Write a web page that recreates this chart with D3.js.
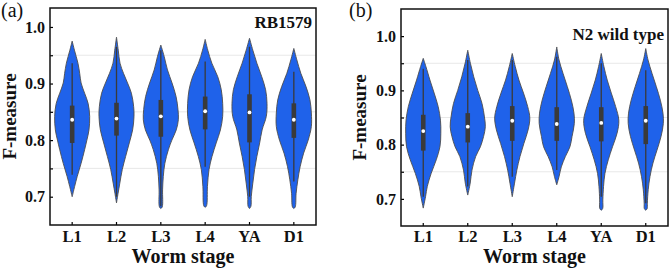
<!DOCTYPE html>
<html>
<head>
<meta charset="utf-8">
<script src="https://cdn.jsdelivr.net/npm/d3@7"></script>
<style>
  body { margin: 0; background: #fff; }
  svg { display: block; }
</style>
</head>
<body>
<div id="chart"></div>
<script>
const stages = ["L1", "L2", "L3", "L4", "YA", "D1"]
const yTicks = [0.7, 0.8, 0.9, 1.0]
const minorTicks = [0.7, 0.75, 0.8, 0.85, 0.9, 0.95, 1.0]
const gridValues = [0.75, 0.85, 0.95]

// violin outlines: [F-measure, relative density]
const rbShapes = [
    [[0.70,0],[0.718,0.14],[0.736,0.29],[0.759,0.51],[0.783,0.71],[0.80,0.84],[0.818,0.96],[0.842,1.0],[0.865,0.91],[0.883,0.71],[0.901,0.51],[0.918,0.43],[0.936,0.33],[0.959,0.13],[0.975,0]],
    [[0.689,0],[0.706,0.09],[0.724,0.19],[0.748,0.33],[0.771,0.52],[0.795,0.73],[0.818,0.92],[0.842,1.0],[0.859,0.98],[0.883,0.85],[0.901,0.63],[0.918,0.4],[0.936,0.2],[0.959,0.1],[0.982,0]],
    [[0.679,0],[0.682,0.08],[0.712,0.1],[0.736,0.14],[0.759,0.23],[0.783,0.43],[0.80,0.63],[0.818,0.88],[0.836,1.0],[0.854,0.98],[0.877,0.87],[0.901,0.64],[0.924,0.38],[0.948,0.19],[0.968,0]],
    [[0.681,0],[0.684,0.08],[0.718,0.13],[0.748,0.22],[0.771,0.39],[0.795,0.63],[0.818,0.87],[0.842,1.0],[0.865,1.0],[0.889,0.92],[0.912,0.72],[0.936,0.38],[0.959,0.15],[0.978,0]],
    [[0.679,0],[0.683,0.08],[0.70,0.1],[0.724,0.19],[0.748,0.29],[0.771,0.42],[0.795,0.58],[0.818,0.72],[0.842,0.96],[0.865,1.0],[0.889,0.92],[0.912,0.7],[0.936,0.42],[0.959,0.19],[0.98,0]],
    [[0.679,0],[0.682,0.08],[0.706,0.13],[0.73,0.23],[0.753,0.36],[0.777,0.56],[0.80,0.82],[0.824,1.0],[0.848,1.0],[0.871,0.92],[0.895,0.69],[0.918,0.4],[0.942,0.17],[0.962,0]]
]
// box stats: [whisker low, q1, median, q3, whisker high]
const rbBoxes = [
    [0.739, 0.795, 0.836, 0.861, 0.936],
    [0.700, 0.808, 0.838, 0.866, 0.965],
    [0.683, 0.806, 0.842, 0.871, 0.959],
    [0.753, 0.819, 0.851, 0.877, 0.939],
    [0.700, 0.796, 0.849, 0.881, 0.965],
    [0.727, 0.804, 0.836, 0.865, 0.921]
]

const n2Shapes = [
    [[0.683,0],[0.704,0.13],[0.723,0.23],[0.747,0.45],[0.772,0.74],[0.796,0.95],[0.821,1.0],[0.845,0.98],[0.87,0.85],[0.895,0.62],[0.919,0.38],[0.944,0.15],[0.959,0]],
    [[0.707,0],[0.729,0.14],[0.753,0.24],[0.778,0.45],[0.796,0.72],[0.815,0.9],[0.833,1.0],[0.851,0.95],[0.876,0.81],[0.90,0.57],[0.925,0.34],[0.95,0.15],[0.974,0]],
    [[0.704,0],[0.729,0.13],[0.753,0.26],[0.778,0.44],[0.802,0.66],[0.827,0.9],[0.849,1.0],[0.87,0.88],[0.895,0.64],[0.919,0.38],[0.944,0.17],[0.968,0]],
    [[0.726,0],[0.741,0.13],[0.759,0.26],[0.778,0.49],[0.796,0.75],[0.815,0.87],[0.839,1.0],[0.858,0.98],[0.882,0.83],[0.907,0.6],[0.931,0.36],[0.956,0.13],[0.98,0]],
    [[0.679,0],[0.682,0.08],[0.698,0.09],[0.723,0.13],[0.747,0.21],[0.772,0.4],[0.796,0.64],[0.821,0.9],[0.845,1.0],[0.87,0.82],[0.895,0.57],[0.919,0.34],[0.944,0.15],[0.968,0]],
    [[0.679,0],[0.682,0.08],[0.692,0.09],[0.717,0.14],[0.741,0.24],[0.766,0.41],[0.79,0.64],[0.815,0.87],[0.839,1.0],[0.858,0.98],[0.882,0.83],[0.907,0.6],[0.931,0.36],[0.956,0.13],[0.977,0]]
]
const n2Boxes = [
    [0.704, 0.789, 0.825, 0.855, 0.940],
    [0.723, 0.804, 0.833, 0.858, 0.956],
    [0.741, 0.807, 0.844, 0.871, 0.956],
    [0.753, 0.807, 0.838, 0.869, 0.962],
    [0.704, 0.806, 0.840, 0.869, 0.950],
    [0.692, 0.801, 0.844, 0.871, 0.937]
]

const width = 669
const height = 268
const fill = "#1f62ea"
const dark = "#3a3a3a"
const font = "'Liberation Serif', 'Times New Roman', serif"

const svg = d3.select("#chart").append("svg")
    .attr("width", width)
    .attr("height", height)
    .attr("viewBox", [0, 0, width, height])
    .style("font-family", font)

function drawPanel(opt) {
    const x = d3.scaleBand(stages, [opt.left, opt.right])
    const y = d3.scaleLinear(opt.yDomain, [opt.bottom, opt.top])
    const w = d3.scaleLinear([0, 1], [0, x.bandwidth() * 0.395])

    const g = svg.append("g")

    // faint grid
    g.append("g").selectAll("line")
        .data(gridValues)
        .join("line")
        .attr("x1", opt.left).attr("x2", opt.right)
        .attr("y1", d => y(d)).attr("y2", d => y(d))
        .attr("stroke", "#e2e2e2")
        .attr("stroke-width", 0.8)

    const area = d3.area()
        .y(d => y(d[0]))
        .curve(d3.curveCatmullRom)

    const v = g.append("g").selectAll("g")
        .data(stages)
        .join("g")
        .attr("transform", s => `translate(${x(s) + x.bandwidth() / 2},0)`)

    v.append("path")
        .attr("d", (s, i) => area.x0(d => -w(d[1])).x1(d => w(d[1]))(opt.shapes[i]))
        .attr("fill", fill)
        .attr("stroke", "#4d4d4d")
        .attr("stroke-width", 0.9)

    v.append("line")
        .attr("y1", (s, i) => y(opt.boxes[i][0]))
        .attr("y2", (s, i) => y(opt.boxes[i][4]))
        .attr("stroke", dark)
        .attr("stroke-width", 1.3)

    v.append("rect")
        .attr("x", -2.3)
        .attr("width", 4.6)
        .attr("y", (s, i) => y(opt.boxes[i][3]))
        .attr("height", (s, i) => y(opt.boxes[i][1]) - y(opt.boxes[i][3]))
        .attr("fill", dark)

    v.append("circle")
        .attr("cy", (s, i) => y(opt.boxes[i][2]))
        .attr("r", 1.9)
        .attr("fill", "#fff")

    // inward ticks
    g.append("g")
        .attr("transform", `translate(${opt.left},0)`)
        .call(d3.axisRight(y).tickValues(minorTicks).tickSize(3).tickFormat(""))
        .call(a => a.select(".domain").remove())
        .call(a => a.selectAll("line").attr("stroke-width", 1.2))

    g.append("g")
        .attr("transform", `translate(0,${opt.bottom})`)
        .call(d3.axisTop(x).tickSize(3).tickFormat(""))
        .call(a => a.select(".domain").remove())
        .call(a => a.selectAll("line").attr("stroke-width", 1.2))

    // tick labels
    g.append("g")
        .attr("transform", `translate(${opt.left},0)`)
        .call(d3.axisLeft(y).tickValues(yTicks).tickSize(0).tickPadding(5).tickFormat(d3.format(".1f")))
        .call(a => a.select(".domain").remove())
        .call(a => a.selectAll("text")
            .attr("font-family", font)
            .attr("font-weight", "bold")
            .attr("font-size", 16)
            .attr("fill", "#111"))

    g.append("g")
        .attr("transform", `translate(0,${opt.bottom})`)
        .call(d3.axisBottom(x).tickSize(0).tickPadding(opt.xPad))
        .call(a => a.select(".domain").remove())
        .call(a => a.selectAll("text")
            .attr("font-family", font)
            .attr("font-weight", "bold")
            .attr("font-size", 16.5)
            .attr("fill", "#111"))

    // frame
    g.append("rect")
        .attr("x", opt.left).attr("y", opt.top)
        .attr("width", opt.right - opt.left)
        .attr("height", opt.bottom - opt.top)
        .attr("fill", "none")
        .attr("stroke", "#111")
        .attr("stroke-width", 1.5)

    g.append("text")
        .attr("transform", `translate(${opt.yLabelX},${(opt.top + opt.bottom) / 2}) rotate(-90)`)
        .attr("text-anchor", "middle")
        .attr("font-weight", "bold")
        .attr("font-size", 19)
        .attr("fill", "#111")
        .text("F-measure")

    g.append("text")
        .attr("x", (opt.left + opt.right) / 2)
        .attr("y", 263)
        .attr("text-anchor", "middle")
        .attr("font-weight", "bold")
        .attr("font-size", 20)
        .attr("fill", "#111")
        .text("Worm stage")

    g.append("text")
        .attr("x", opt.right - 4)
        .attr("y", opt.titleY)
        .attr("text-anchor", "end")
        .attr("font-weight", "bold")
        .attr("font-size", 17)
        .attr("fill", "#111")
        .text(opt.title)

    g.append("text")
        .attr("x", opt.tagX)
        .attr("y", 17)
        .attr("font-size", 20)
        .attr("fill", "#111")
        .text(opt.tag)
}

drawPanel({
    left: 50, right: 316, top: 8, bottom: 225,
    yDomain: [0.65, 1.0335],
    shapes: rbShapes, boxes: rbBoxes, xPad: 5,
    title: "RB1579", titleY: 28, tag: "(a)", tagX: 1, yLabelX: 16
})

drawPanel({
    left: 401, right: 668, top: 9, bottom: 226,
    yDomain: [0.65, 1.05],
    shapes: n2Shapes, boxes: n2Boxes, xPad: 4,
    title: "N2 wild type", titleY: 40, tag: "(b)", tagX: 349, yLabelX: 366
})
</script>
</body>
</html>
